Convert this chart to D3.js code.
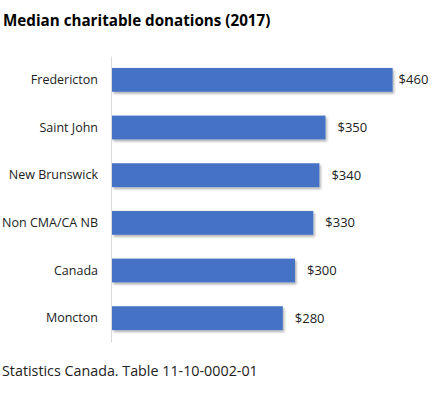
<!DOCTYPE html>
<html>
<head>
<meta charset="utf-8">
<script src="https://cdn.jsdelivr.net/npm/d3@7"></script>
<style>
  body { margin: 0; background: #fff; }
  svg text { font-family: "Open Sans", "Noto Sans", sans-serif; fill: #222; }
</style>
</head>
<body>
<div class="canvas"></div>
<script>
const categories = ['Fredericton', 'Saint John', 'New Brunswick', 'Non CMA/CA NB', 'Canada', 'Moncton']
const donations = [460, 350, 340, 330, 300, 280]

const dims = {width: 439, height: 395}
const plot = {left: 112, right: 417, top: 56, bottom: 342}

const svg = d3.select('.canvas')
    .append('svg')
    .attr('width', dims.width)
    .attr('height', dims.height)

// soft shadow under bars, like the spreadsheet style
const defs = svg.append('defs')
const filter = defs.append('filter').attr('id', 'shadow')
    .attr('x', '-5%').attr('y', '-20%').attr('width', '115%').attr('height', '160%')
filter.append('feDropShadow')
    .attr('dx', 1.5).attr('dy', 2).attr('stdDeviation', 1.2)
    .attr('flood-color', '#000').attr('flood-opacity', 0.3)

const x = d3.scaleLinear()
    .domain([0, 500])
    .range([plot.left, plot.right])

const y = d3.scaleBand()
    .domain(categories)
    .range([plot.top, plot.bottom])
    .paddingInner(0.5)
    .paddingOuter(0.25)

const data = categories.map((c, i) => ({name: c, value: donations[i]}))
const maxVal = d3.max(donations)

// title
svg.append('text')
    .attr('x', 3)
    .attr('y', 26)
    .attr('font-size', 15.2)
    .attr('font-weight', 'bold')
    .style('fill', '#000')
    .text('Median charitable donations (2017)')

// bars
svg.append('g')
    .selectAll('rect')
    .data(data)
    .enter()
    .append('rect')
    .attr('x', x(0))
    .attr('y', d => y(d.name))
    .attr('width', d => x(d.value) - x(0))
    .attr('height', y.bandwidth())
    .attr('fill', '#4472C4')
    .attr('filter', 'url(#shadow)')

// category axis
const yAxis = d3.axisLeft(y).tickSize(0).tickPadding(13)
const axisG = svg.append('g')
    .attr('transform', `translate(${x(0) - 1}, 0)`)
    .call(yAxis)
axisG.select('.domain').attr('stroke', '#d9d9d9')
axisG.selectAll('text')
    .attr('font-size', 12.5)
    .style('font-family', '"Open Sans", "Noto Sans", sans-serif')
    .style('fill', '#222')

// value labels (the longest bar's label sits closer, as in the original)
svg.append('g')
    .selectAll('text')
    .data(data)
    .enter()
    .append('text')
    .attr('x', d => x(d.value) + (d.value === maxVal ? 6 : 12))
    .attr('y', d => y(d.name) + y.bandwidth() / 2)
    .attr('dy', '0.35em')
    .attr('font-size', 13)
    .text(d => '$' + d.value)

// source note
svg.append('text')
    .attr('x', 2)
    .attr('y', 376)
    .attr('font-size', 14.3)
    .text('Statistics Canada. Table 11-10-0002-01')
</script>
</body>
</html>
